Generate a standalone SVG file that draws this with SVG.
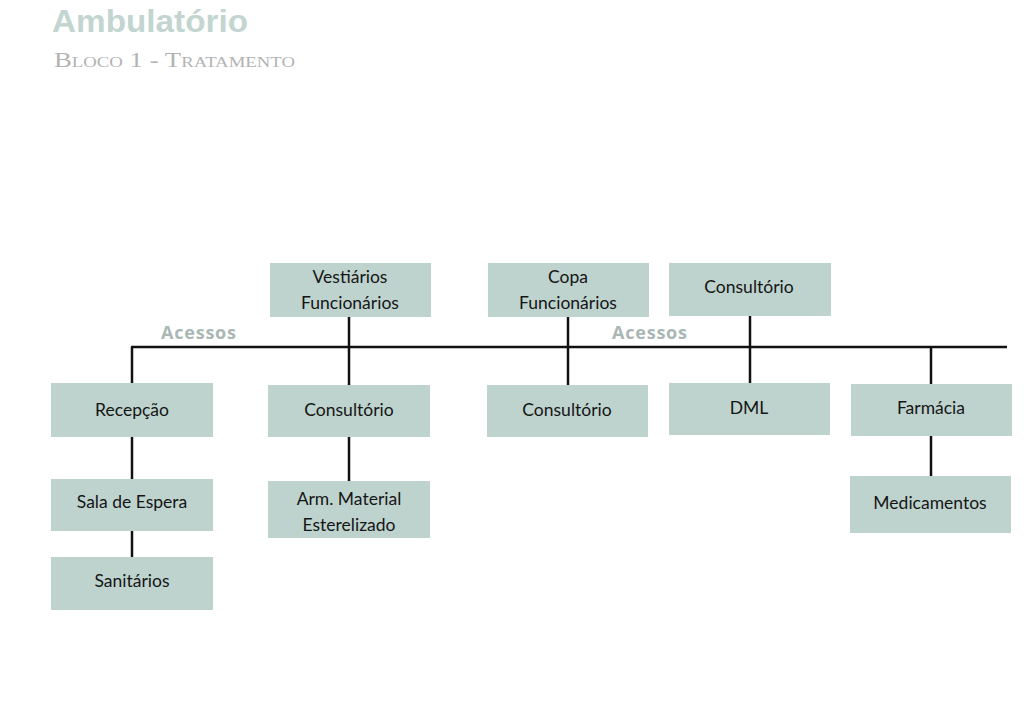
<svg xmlns="http://www.w3.org/2000/svg" width="1024" height="709" viewBox="0 0 1024 709">
<style>
.box{fill:#bed3ce}
.lbl{font-family:Lato,"Open Sans",sans-serif;font-size:17.5px;fill:#151515;text-anchor:middle}
.acc{font-family:"Open Sans","Liberation Sans",sans-serif;font-size:18px;font-weight:bold;fill:#a9b8b5;letter-spacing:1px}
.ln{stroke:#111;stroke-width:2.5;fill:none}
</style>
<rect width="1024" height="709" fill="#fff"/>
<text x="52" y="32" font-family="Liberation Sans,Arial,sans-serif" font-size="31" font-weight="bold" fill="#c3d5d0" textLength="196" lengthAdjust="spacingAndGlyphs">Ambulatório</text>
<text x="54" y="67" font-family="Liberation Serif,serif" font-size="20" font-variant="small-caps" fill="#b3b3b3" textLength="241" lengthAdjust="spacingAndGlyphs">Bloco 1 - Tratamento</text>
<text class="acc" x="161" y="339" textLength="76">Acessos</text>
<text class="acc" x="612" y="339" textLength="76">Acessos</text>
<g id="connectors">
<path class="ln" d="M131,347 H1007"/>
<path class="ln" d="M132,347 V383 M132,437 V479 M132,531 V557"/>
<path class="ln" d="M349,317 V385 M349,437 V481"/>
<path class="ln" d="M568,317 V385"/>
<path class="ln" d="M750,316 V383"/>
<path class="ln" d="M931,347 V384 M931,436 V476"/>
</g>
<g id="vestiarios"><rect class="box" x="270" y="263" width="161" height="54"/><text class="lbl" x="350" y="283">Vestiários</text><text class="lbl" x="350" y="309">Funcionários</text></g>
<g id="copa"><rect class="box" x="488" y="263" width="161" height="54"/><text class="lbl" x="568" y="283">Copa</text><text class="lbl" x="568" y="309">Funcionários</text></g>
<g id="consultorio-top"><rect class="box" x="669" y="263" width="162" height="53"/><text class="lbl" x="749" y="293">Consultório</text></g>
<g id="recepcao"><rect class="box" x="51" y="383" width="162" height="54"/><text class="lbl" x="132" y="416">Recepção</text></g>
<g id="consultorio-2"><rect class="box" x="268" y="385" width="162" height="52"/><text class="lbl" x="349" y="416">Consultório</text></g>
<g id="consultorio-3"><rect class="box" x="487" y="385" width="161" height="52"/><text class="lbl" x="567" y="416">Consultório</text></g>
<g id="dml"><rect class="box" x="669" y="383" width="161" height="52"/><text class="lbl" x="749" y="414">DML</text></g>
<g id="farmacia"><rect class="box" x="851" y="384" width="161" height="52"/><text class="lbl" x="931" y="414">Farmácia</text></g>
<g id="sala-espera"><rect class="box" x="51" y="479" width="162" height="52"/><text class="lbl" x="132" y="508">Sala de Espera</text></g>
<g id="sanitarios"><rect class="box" x="51" y="557" width="162" height="53"/><text class="lbl" x="132" y="587">Sanitários</text></g>
<g id="arm-material"><rect class="box" x="268" y="481" width="162" height="57"/><text class="lbl" x="349" y="505">Arm. Material</text><text class="lbl" x="349" y="531">Esterelizado</text></g>
<g id="medicamentos"><rect class="box" x="850" y="476" width="161" height="57"/><text class="lbl" x="930" y="509">Medicamentos</text></g>
</svg>
